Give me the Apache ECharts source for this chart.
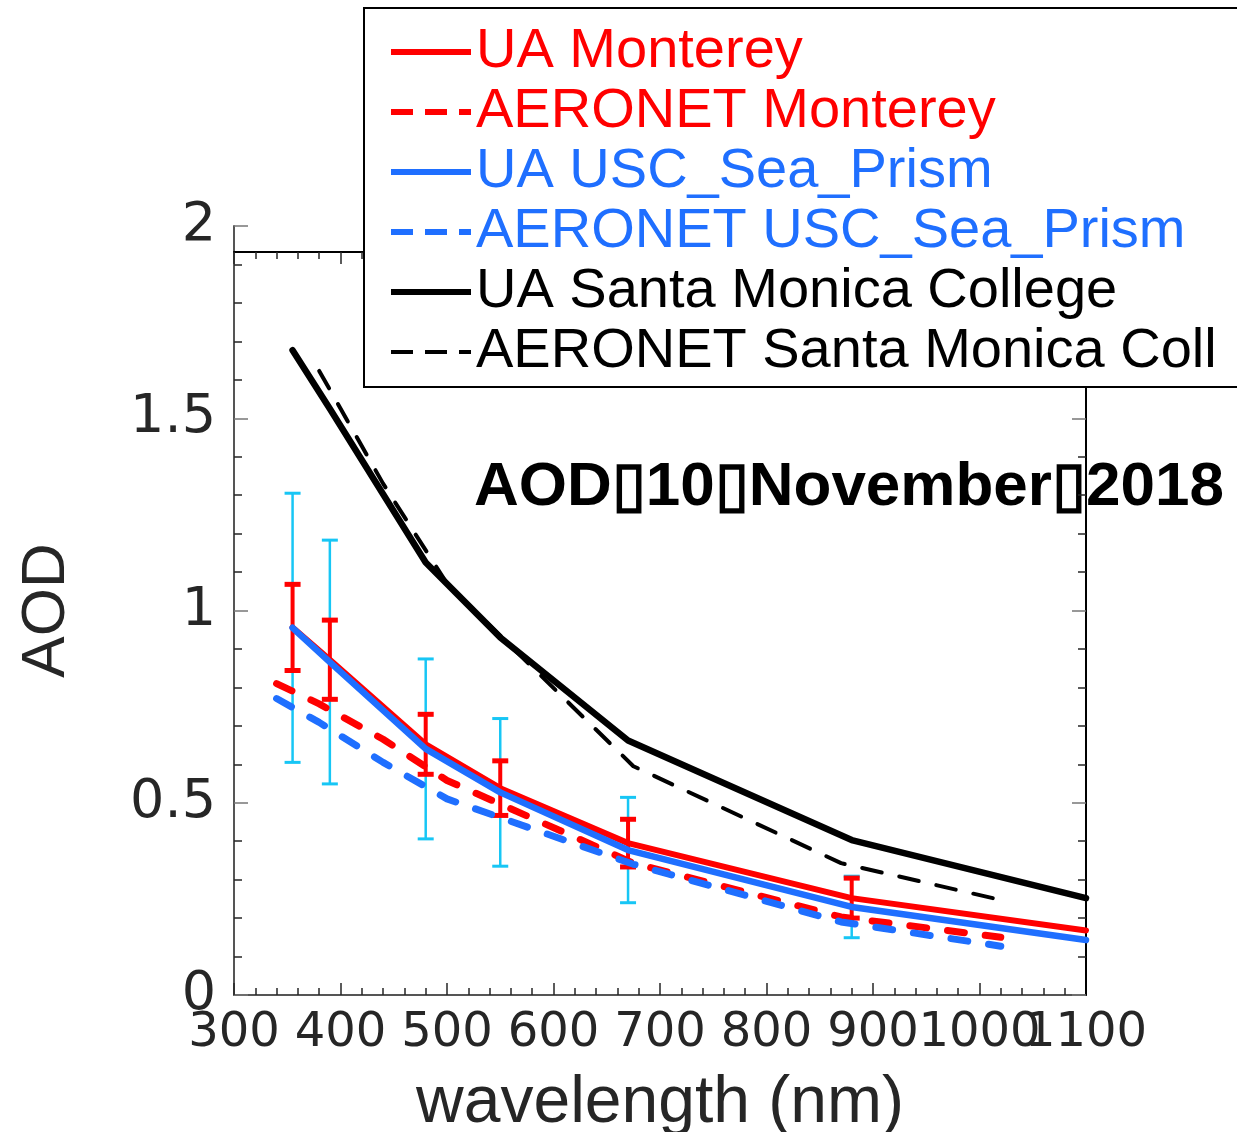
<!DOCTYPE html>
<html>
<head>
<meta charset="utf-8">
<script src="https://cdn.jsdelivr.net/npm/echarts@6/dist/echarts.min.js"></script>
<style>
  html, body { margin: 0; padding: 0; background: #ffffff; }
  #chart { width: 1237px; height: 1132px; }
</style>
</head>
<body>
<div id="chart"></div>
<script>
// Wavelengths (nm) of the two instrument types
const uaWavelengths = [355, 390, 480, 550, 670, 880, 1100];
const aeronetWavelengths = [340, 380, 440, 500, 675, 870, 1020];

// UA retrievals with their uncertainty (half-width of the error bar)
const uaMonterey = [0.956, 0.872, 0.652, 0.538, 0.395, 0.252, 0.168];
const uaMontereyErr = [0.112, 0.103, 0.078, 0.071, 0.062, 0.052, null];
const uaUsc = [0.955, 0.866, 0.640, 0.527, 0.377, 0.229, 0.143];
const uaUscErr = [0.350, 0.317, 0.234, 0.192, 0.137, 0.080, null];
const uaSmc = [1.677, 1.525, 1.125, 0.930, 0.662, 0.403, 0.252];

// AERONET ground truth
const aeronetMonterey = [0.810, 0.757, 0.665, 0.558, 0.343, 0.203, 0.150];
const aeronetUsc = [0.771, 0.709, 0.605, 0.510, 0.340, 0.190, 0.127];
const aeronetSmc = [null, 1.623, 1.330, 1.070, 0.595, 0.343, 0.247];

// Axis ticks
const xTicks = { min: 300, max: 1100, step: 100 };
const yTicks = { min: 0, max: 2, step: 0.5 };

const seriesNames = [
  'UA Monterey', 'AERONET Monterey', 'UA USC_Sea_Prism',
  'AERONET USC_Sea_Prism', 'UA Santa Monica College', 'AERONET Santa Monica Coll'
];
const titleText = 'AOD\u25AF10\u25AFNovember\u25AF2018';

const RED = '#ff0000';
const BLUE = '#1f6fff';
const CYAN = '#17c6f5';
const BLACK = '#000000';
const TEXT = '#262626';

function pairs(xs, ys) {
  return xs.map((x, i) => [x, ys[i]]);
}

function errorBars(name, xs, ys, errs, color, stemWidth, capHalf, capWidth, z) {
  const data = [];
  xs.forEach((x, i) => {
    if (errs[i] != null) data.push([x, ys[i] - errs[i], ys[i] + errs[i]]);
  });
  return {
    type: 'custom',
    name: name,
    data: data,
    z: z,
    silent: true,
    encode: { x: 0, y: [1, 2] },
    renderItem: function (params, api) {
      const x = api.value(0);
      const lo = api.coord([x, api.value(1)]);
      const hi = api.coord([x, api.value(2)]);
      return {
        type: 'group',
        children: [
          { type: 'line', shape: { x1: lo[0], y1: lo[1], x2: hi[0], y2: hi[1] },
            style: { stroke: color, lineWidth: stemWidth } },
          { type: 'line', shape: { x1: lo[0] - capHalf, y1: lo[1], x2: lo[0] + capHalf, y2: lo[1] },
            style: { stroke: color, lineWidth: capWidth } },
          { type: 'line', shape: { x1: hi[0] - capHalf, y1: hi[1], x2: hi[0] + capHalf, y2: hi[1] },
            style: { stroke: color, lineWidth: capWidth } }
        ]
      };
    }
  };
}

function lineSeries(name, xs, ys, color, width, dash, z) {
  return {
    type: 'line',
    name: name,
    data: pairs(xs, ys),
    symbol: 'none',
    z: z,
    silent: true,
    clip: false,
    connectNulls: false,
    lineStyle: { color: color, width: width, type: dash || 'solid', cap: 'round', join: 'round' },
    itemStyle: { color: color }
  };
}

function legendEntry(name, color, width, dash) {
  return {
    name: name,
    textStyle: { color: color },
    itemStyle: { opacity: 0 },
    lineStyle: { color: color, width: width, type: dash || 'solid', cap: 'butt', opacity: 1 }
  };
}

// The last tick label (1100) overlaps its neighbour, so it is drawn by an
// overlaid axis of its own; the main axis leaves that slot empty.
function tickLabel(v) {
  return v === xTicks.max ? '' : String(v);
}
function lastTickLabel(v) {
  return v === xTicks.max ? String(v) : '';
}

const chart = echarts.init(document.getElementById('chart'), null, { renderer: 'canvas' });

const axisTickStyle = { color: TEXT, width: 1.5 };
const xLabelFont = { fontFamily: 'DejaVu Sans', fontSize: 48, lineHeight: 48, color: TEXT };

chart.setOption({
  animation: false,
  backgroundColor: '#ffffff',
  grid: { left: 234, right: 151, top: 226, bottom: 137, containLabel: false, outerBoundsMode: 'none' },
  title: {
    text: titleText,
    left: 469,
    top: 452,
    z: 1,
    textStyle: { fontFamily: 'Liberation Sans', fontWeight: 'bold', fontSize: 62, lineHeight: 62, color: BLACK }
  },
  legend: {
    orient: 'vertical',
    left: 364,
    top: 8,
    align: 'left',
    padding: [16, 40, 7, 24],
    itemWidth: 80,
    itemHeight: 20,
    itemGap: 4,
    backgroundColor: '#ffffff',
    borderColor: BLACK,
    borderWidth: 2,
    borderRadius: 0,
    selectedMode: false,
    z: 10,
    textStyle: { fontFamily: 'Liberation Sans', fontSize: 56, lineHeight: 56 },
    data: [
      legendEntry(seriesNames[0], RED, 6),
      legendEntry(seriesNames[1], RED, 6, [22, 12]),
      legendEntry(seriesNames[2], BLUE, 6),
      legendEntry(seriesNames[3], BLUE, 6, [22, 12]),
      legendEntry(seriesNames[4], BLACK, 6),
      legendEntry(seriesNames[5], BLACK, 4, [22, 12])
    ]
  },
  xAxis: [
    {
      type: 'value',
      position: 'bottom',
      min: xTicks.min, max: xTicks.max, interval: xTicks.step,
      name: 'wavelength (nm)',
      nameLocation: 'middle',
      nameGap: 76,
      nameTextStyle: { fontFamily: 'Liberation Sans', fontSize: 66, color: TEXT },
      axisLine: { onZero: false, lineStyle: { color: '#555555', width: 2 } },
      axisTick: { inside: true, length: 12, lineStyle: axisTickStyle },
      minorTick: { show: true, splitNumber: 5, length: 7, lineStyle: axisTickStyle },
      splitLine: { show: false },
      axisLabel: Object.assign({ margin: 15, showMinLabel: true, showMaxLabel: true, formatter: tickLabel }, xLabelFont)
    },
    {
      type: 'value',
      position: 'top',
      offset: -26,
      min: xTicks.min, max: xTicks.max, interval: xTicks.step,
      axisLine: { onZero: false, lineStyle: { color: BLACK, width: 2 } },
      axisTick: { inside: true, length: 12, lineStyle: axisTickStyle },
      minorTick: { show: true, splitNumber: 5, length: 7, lineStyle: axisTickStyle },
      splitLine: { show: false },
      axisLabel: { show: false }
    },
    {
      type: 'value',
      position: 'bottom',
      offset: 0,
      min: xTicks.min, max: xTicks.max, interval: xTicks.step,
      axisLine: { show: false, onZero: false },
      axisTick: { show: false },
      splitLine: { show: false },
      axisLabel: Object.assign({ margin: 15, showMinLabel: true, showMaxLabel: true, formatter: lastTickLabel }, xLabelFont)
    }
  ],
  yAxis: [
    {
      type: 'value',
      position: 'left',
      min: yTicks.min, max: yTicks.max, interval: yTicks.step,
      name: 'AOD',
      nameLocation: 'middle',
      nameRotate: 90,
      nameGap: 156,
      nameTextStyle: { fontFamily: 'Liberation Sans', fontSize: 62, color: TEXT },
      axisLine: { onZero: false, lineStyle: { color: '#555555', width: 2 } },
      axisTick: { inside: true, length: 14, lineStyle: { color: '#777777', width: 1.5 } },
      minorTick: { show: true, splitNumber: 5, length: 8, lineStyle: axisTickStyle },
      splitLine: { show: false },
      axisLabel: {
        margin: 18, fontFamily: 'DejaVu Sans', fontSize: 54, color: TEXT,
        formatter: function (v) { return String(v); }
      }
    },
    {
      type: 'value',
      position: 'right',
      z: 3,
      min: yTicks.min, max: yTicks.max, interval: yTicks.step,
      axisLine: { show: true, onZero: false, lineStyle: { color: BLACK, width: 2 } },
      axisTick: { inside: true, length: 14, lineStyle: { color: '#777777', width: 1.5 } },
      minorTick: { show: true, splitNumber: 5, length: 8, lineStyle: axisTickStyle },
      splitLine: { show: false },
      axisLabel: { show: false }
    }
  ],
  series: [
    errorBars('UA USC_Sea_Prism error', uaWavelengths, uaUsc, uaUscErr, CYAN, 2.5, 8, 3, 2),
    errorBars('UA Monterey error', uaWavelengths, uaMonterey, uaMontereyErr, RED, 4, 8, 5, 3),
    lineSeries(seriesNames[0], uaWavelengths, uaMonterey, RED, 6, null, 4),
    lineSeries(seriesNames[1], aeronetWavelengths, aeronetMonterey, RED, 7, [17, 21], 4),
    lineSeries(seriesNames[2], uaWavelengths, uaUsc, BLUE, 6.5, null, 4),
    lineSeries(seriesNames[3], aeronetWavelengths, aeronetUsc, BLUE, 7, [17, 21], 4),
    lineSeries(seriesNames[4], uaWavelengths, uaSmc, BLACK, 6.5, null, 4),
    lineSeries(seriesNames[5], aeronetWavelengths, aeronetSmc, BLACK, 4, [20, 18], 4)
  ]
});
</script>
</body>
</html>
